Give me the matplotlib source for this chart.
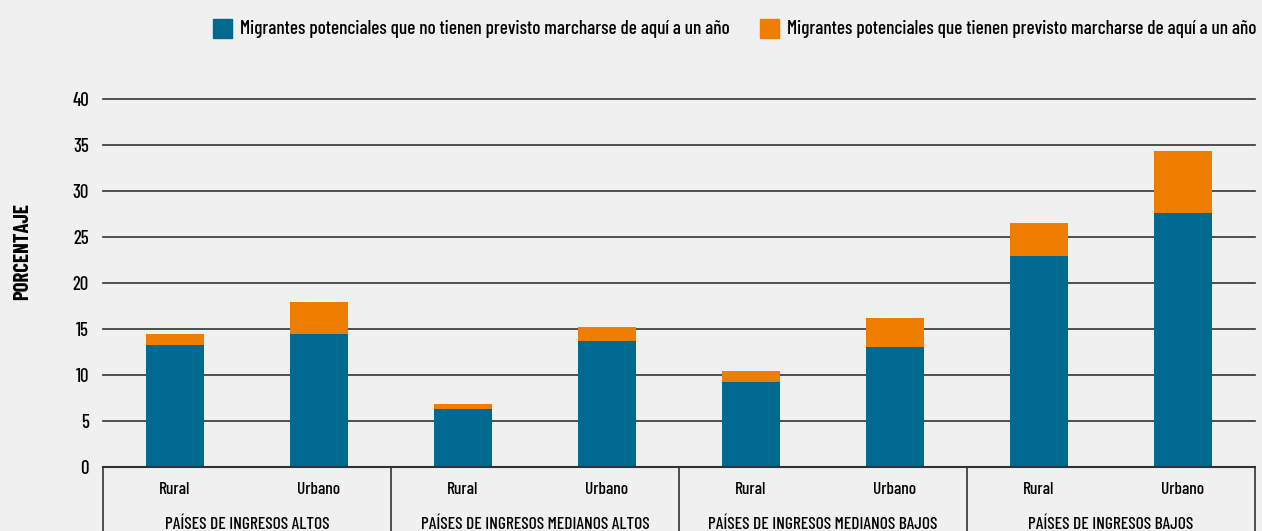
import matplotlib
matplotlib.use('Agg')
import matplotlib.pyplot as plt
from matplotlib.patches import Rectangle
import numpy as np

plt.rcParams['font.family'] = ['Barlow Condensed', 'DejaVu Sans']
plt.rcParams['font.weight'] = 'medium'

# Data
groups = ['PAÍSES DE INGRESOS ALTOS', 'PAÍSES DE INGRESOS MEDIANOS ALTOS',
          'PAÍSES DE INGRESOS MEDIANOS BAJOS', 'PAÍSES DE INGRESOS BAJOS']
areas = ['Rural', 'Urbano']
no_plan = [13.3, 14.5, 6.3, 13.7, 9.2, 13.0, 22.9, 27.6]
plan = [1.2, 3.4, 0.55, 1.5, 1.2, 3.2, 3.6, 6.7]
series_labels = ['Migrantes potenciales que no tienen previsto marcharse de aquí a un año',
                 'Migrantes potenciales que tienen previsto marcharse de aquí a un año']

BLUE = '#006990'
ORANGE = '#ef7d00'
BG = '#f0f0f0'
LINE = '#333333'

W, H = 1262, 531
fig = plt.figure(figsize=(W / 100, H / 100), dpi=100, facecolor=BG)
ax = fig.add_axes([103 / W, (H - 467) / H, (1255 - 103) / W, (467 - 99) / H])
ax.set_facecolor(BG)

x = np.arange(len(no_plan))
ax.bar(x, no_plan, width=0.4, color=BLUE, zorder=3)
ax.bar(x, plan, width=0.4, bottom=no_plan, color=ORANGE, zorder=3)

ax.set_xlim(-0.5, len(no_plan) - 0.5)
ax.set_ylim(0, 40)
ax.set_yticks(np.arange(0, 41, 5))
ax.yaxis.grid(True, color=LINE, linewidth=1.2, zorder=1)
for gl in ax.yaxis.get_gridlines():
    gl.set_clip_on(False)
ax.tick_params(axis='y', length=0, pad=10, labelsize=13.5)
ax.set_xticks([])
for s in ['top', 'right', 'left']:
    ax.spines[s].set_visible(False)
ax.spines['bottom'].set_color(LINE)
ax.spines['bottom'].set_linewidth(1.5)
ax.spines['bottom'].set_zorder(4)

ax.set_ylabel('PORCENTAJE', fontsize=15, fontweight='bold')
ax.yaxis.set_label_coords(-71 / 1152, (467 - 252) / 368)

# Category table under the axis
trans = ax.get_xaxis_transform()
bottom_y = -(531 - 467) / 368
for b in np.arange(-0.5, len(no_plan), 2):
    ax.plot([b, b], [0, bottom_y], color=LINE, lw=1.2, transform=trans, clip_on=False)
for i in x:
    ax.text(i, -22 / 368, areas[i % 2], transform=trans, ha='center', va='center',
            fontsize=12.5)
for g, name in enumerate(groups):
    ax.text(2 * g + 0.5, -57 / 368, name, transform=trans, ha='center', va='center',
            fontsize=12.5)

# Legend along the top
for (sx, tx), lab, col in zip([(213, 240), (760, 787)], series_labels, [BLUE, ORANGE]):
    fig.patches.append(Rectangle((sx / W, (H - 38) / H), 19 / W, 19 / H,
                                 transform=fig.transFigure, color=col))
    fig.text(tx / W, (H - 29) / H, lab, ha='left', va='center', fontsize=13.8)

fig.savefig('out.png', dpi=100, facecolor=BG)
